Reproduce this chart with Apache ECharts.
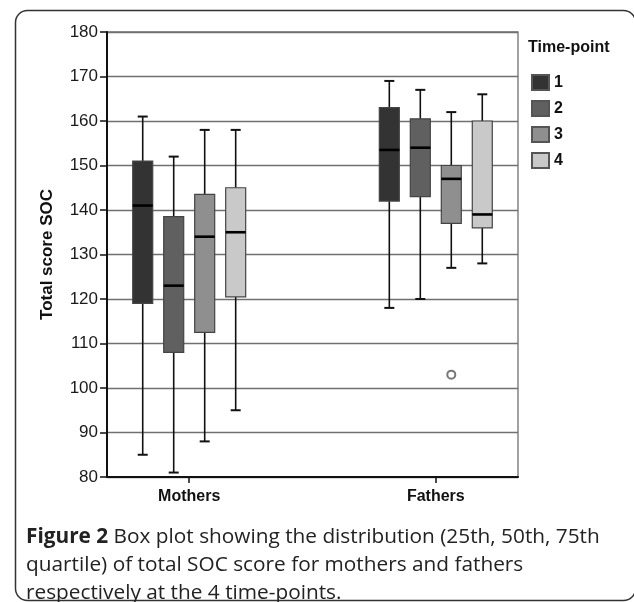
<!DOCTYPE html>
<html>
<head>
<meta charset="utf-8">
<script src="https://cdn.jsdelivr.net/npm/echarts@6/dist/echarts.min.js"></script>
<style>html,body{margin:0;padding:0;background:#fff;}#c{width:634px;height:602px;}</style>
</head>
<body>
<div id="c"></div>
<script>
// ---- data ----
const groups = ['Mothers', 'Fathers'];
const timePoints = ['1', '2', '3', '4'];
const yTicks = [80, 90, 100, 110, 120, 130, 140, 150, 160, 170, 180];
// each row: [min, Q1, median, Q3, max] for Mothers, Fathers
const tp1 = [[85, 119, 141, 151, 161], [118, 142, 153.5, 163, 169]];
const tp2 = [[81, 108, 123, 138.5, 152], [120, 143, 154, 160.5, 167]];
const tp3 = [[88, 112.5, 134, 143.5, 158], [127, 137, 147, 150, 162]];
const tp4 = [[95, 120.5, 135, 145, 158], [128, 136, 139, 160, 166]];
// outliers: [group index, time-point index, value]
const outliers = [[1, 2, 103]];

// ---- layout constants ----
const colors = ['#333333', '#606060', '#8f8f8f', '#c9c9c9'];
const groupPos = function (g) { return g * 3 + 1; };
const STEP = 0.377;
const offsetOf = function (t) { return (t - 1.5) * STEP; };
const BOX_HALF = 10, CAP_HALF = 5;

const tpData = [tp1, tp2, tp3, tp4];

function renderItem(params, api) {
  const t = params.seriesIndex;
  const xv = groupPos(api.value(0)) + offsetOf(t);
  const pMin = api.coord([xv, api.value(1)]);
  const pQ1 = api.coord([xv, api.value(2)]);
  const pMed = api.coord([xv, api.value(3)]);
  const pQ3 = api.coord([xv, api.value(4)]);
  const pMax = api.coord([xv, api.value(5)]);
  const cx = pMed[0];
  const ws = { stroke: '#111', lineWidth: 1.6 };
  return {
    type: 'group',
    children: [
      { type: 'line', shape: { x1: cx, y1: pQ3[1], x2: cx, y2: pMax[1] }, style: ws },
      { type: 'line', shape: { x1: cx, y1: pQ1[1], x2: cx, y2: pMin[1] }, style: ws },
      { type: 'line', shape: { x1: cx - CAP_HALF, y1: pMax[1], x2: cx + CAP_HALF, y2: pMax[1] }, style: { stroke: '#111', lineWidth: 2 } },
      { type: 'line', shape: { x1: cx - CAP_HALF, y1: pMin[1], x2: cx + CAP_HALF, y2: pMin[1] }, style: { stroke: '#111', lineWidth: 2 } },
      { type: 'rect', shape: { x: cx - BOX_HALF, y: pQ3[1], width: BOX_HALF * 2, height: pQ1[1] - pQ3[1] },
        style: { fill: colors[t], stroke: '#444', lineWidth: 1.2 } },
      { type: 'line', shape: { x1: cx - BOX_HALF, y1: pMed[1], x2: cx + BOX_HALF, y2: pMed[1] }, style: { stroke: '#000', lineWidth: 2.6 } }
    ]
  };
}

const series = tpData.map(function (rows, t) {
  return {
    name: timePoints[t],
    type: 'custom',
    renderItem: renderItem,
    itemStyle: { color: colors[t], borderColor: '#555', borderWidth: 1 },
    encode: { x: 0, y: [1, 2, 3, 4, 5] },
    data: rows.map(function (r, g) { return [g].concat(r); }),
    z: 3
  };
});
series.push({
  name: 'outlier',
  type: 'scatter',
  symbol: 'emptyCircle',
  symbolSize: 8,
  itemStyle: { color: '#555', borderColor: '#555', borderWidth: 1.5 },
  data: outliers.map(function (o) { return [groupPos(o[0]) + offsetOf(o[1]), o[2]]; }),
  z: 4
});

const chart = echarts.init(document.getElementById('c'), null, { renderer: 'canvas' });
chart.setOption({
  animation: false,
  backgroundColor: '#fff',
  grid: { left: 107, right: 116, top: 32, bottom: 125, show: true, borderColor: '#707070', borderWidth: 1.3, backgroundColor: 'transparent' },
  legend: {
    data: timePoints,
    orient: 'vertical',
    left: 531,
    top: 74,
    padding: 0,
    itemWidth: 17,
    itemHeight: 15,
    itemGap: 9,
    icon: 'rect',
    textStyle: { fontFamily: 'Liberation Sans', fontWeight: 'bold', fontSize: 16, lineHeight: 15, color: '#111' }
  },
  xAxis: {
    type: 'value',
    min: 0,
    max: 5,
    splitLine: { show: false },
    axisLine: { show: true, lineStyle: { color: '#111', width: 2 } },
    axisTick: { show: true, customValues: groups.map(function (g, i) { return groupPos(i); }), length: 6, lineStyle: { color: '#111', width: 1.5 } },
    axisLabel: {
      customValues: groups.map(function (g, i) { return groupPos(i); }),
      formatter: function (v) { return groups[Math.round((v - 1) / 3)]; },
      fontFamily: 'Liberation Sans', fontWeight: 'bold', fontSize: 16, color: '#111', margin: 12
    }
  },
  yAxis: {
    type: 'value',
    min: yTicks[0],
    max: yTicks[yTicks.length - 1],
    interval: 10,
    name: 'Total score SOC',
    nameLocation: 'middle',
    nameRotate: 90,
    nameGap: 51.5,
    nameTextStyle: { fontFamily: 'Liberation Sans', fontWeight: 'bold', fontSize: 17, color: '#111' },
    axisLine: { show: true, lineStyle: { color: '#111', width: 2 } },
    axisTick: { show: true, length: 7, lineStyle: { color: '#111', width: 1.5 } },
    axisLabel: { fontFamily: 'Liberation Sans', fontSize: 17, color: '#1a1a1a', margin: 9 },
    splitLine: { show: true, lineStyle: { color: '#707070', width: 1.3 } }
  },
  graphic: [
    { type: 'rect', left: 13, top: 8, shape: { width: 620, height: 590, r: 12 }, style: { fill: 'none', stroke: '#333', lineWidth: 1.5 }, silent: true },
    { type: 'text', left: 528, top: 40, style: { text: 'Time-point', font: 'bold 16px "Liberation Sans"', fill: '#111' } },
    { type: 'text', left: 26, top: 523, style: {
        text: '{b|Figure 2} Box plot showing the distribution (25th, 50th, 75th\nquartile) of total SOC score for mothers and fathers\nrespectively at the 4 time-points.',
        rich: { b: { fontFamily: 'Open Sans', fontWeight: 'bold', fontSize: 20.8, fill: '#222', lineHeight: 28 } },
        fontFamily: 'Open Sans', fontSize: 20.8, fill: '#222', lineHeight: 28
      } }
  ],
  series: series
});
</script>
</body>
</html>
